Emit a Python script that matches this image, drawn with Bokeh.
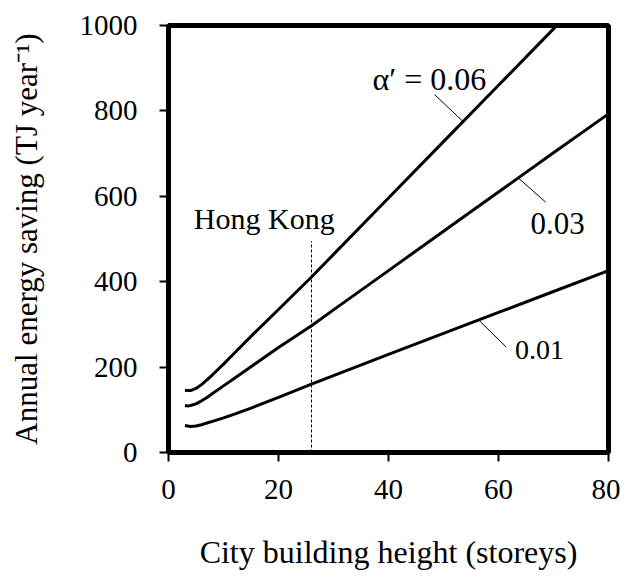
from bokeh.plotting import figure
from bokeh.models import Range1d, FixedTicker
from bokeh.core.properties import value
from bokeh.embed import file_html
from bokeh.resources import INLINE

# City building height (storeys)
height_storeys = [3, 3.5, 4, 5, 6, 7, 8, 10, 12, 15, 20, 26, 30, 40, 50, 60, 70, 80]
# Annual energy saving (TJ/year) for each alpha'
saving_a006 = [146, 145, 145, 150, 159, 170, 182, 207, 233, 272, 335, 411, 464, 596, 728, 860, 992, 1124]
saving_a003 = [110, 109, 110, 114, 121, 129, 138, 156, 174, 201, 246, 297, 334, 426, 518, 610, 702, 793]
saving_a001 = [63, 62, 61, 62, 65, 69, 73, 81, 90, 104, 129, 160, 180, 230, 279, 328, 377, 426]

hong_kong_x = [26]
hong_kong_top = [495]

x_ticks = [0, 20, 40, 60, 80]
y_ticks = [0, 200, 400, 600, 800, 1000]

label_texts = ["\u03b1\u2032 = 0.06", "0.03", "0.01", "Hong Kong"]
label_x = [37.1, 65.8, 63.0, 4.6]
label_y = [875, 536, 241, 548]
label_sizes = ["32px", "31px", "28px", "30px"]

lead_x0 = [48.4, 63.6, 56.5]
lead_y0 = [838, 643, 309]
lead_x1 = [53.4, 68.6, 61.4]
lead_y1 = [777, 586, 247]

FONT = "Liberation Serif"

p = figure(width=620, height=577, output_backend="svg", toolbar_location=None,
           x_range=Range1d(0, 80), y_range=Range1d(0, 1000),
           min_border_left=168, min_border_right=12, min_border_top=25, min_border_bottom=125)

p.background_fill_color = "white"
p.border_fill_color = "white"
p.outline_line_color = "black"
p.outline_line_width = 5
p.xgrid.visible = False
p.ygrid.visible = False

for ax in (p.xaxis[0], p.yaxis[0]):
    ax.axis_line_width = 5
    ax.axis_line_color = "black"
    ax.major_tick_line_width = 2
    ax.major_tick_line_color = "black"
    ax.major_tick_in = 0
    ax.major_tick_out = 9
    ax.minor_tick_line_color = None
    ax.major_label_text_font = FONT
    ax.major_label_text_font_size = "29px"
    ax.major_label_text_color = "black"
    ax.axis_label_text_font = FONT
    ax.axis_label_text_font_style = "normal"
    ax.axis_label_text_color = "black"

p.xaxis.axis_label_text_font_size = "32px"
p.yaxis.axis_label_text_font_size = "31px"
p.xaxis.ticker = FixedTicker(ticks=x_ticks)
p.yaxis.ticker = FixedTicker(ticks=y_ticks)
p.xaxis.major_label_standoff = 18
p.yaxis.major_label_standoff = 22
p.xaxis.axis_label = "City building height (storeys)"
p.yaxis.axis_label = "Annual energy saving (TJ year\u207b\u00b9)"
p.xaxis.axis_label_standoff = 32
p.yaxis.axis_label_standoff = 33

for ys in (saving_a006, saving_a003, saving_a001):
    p.line(height_storeys, ys, line_color="black", line_width=3)

p.segment(x0=hong_kong_x, y0=[0], x1=hong_kong_x, y1=hong_kong_top,
          line_color="black", line_width=1, line_dash="3 2")

p.segment(x0=lead_x0, y0=lead_y0, x1=lead_x1, y1=lead_y1, line_color="black", line_width=1)

for t, x, y, s in zip(label_texts, label_x, label_y, label_sizes):
    p.text(x=[x], y=[y], text=[t], text_font=value(FONT), text_font_size=s,
           text_align="left", text_baseline="alphabetic", text_color="black")

open("out.html", "w").write(file_html(p, INLINE))
